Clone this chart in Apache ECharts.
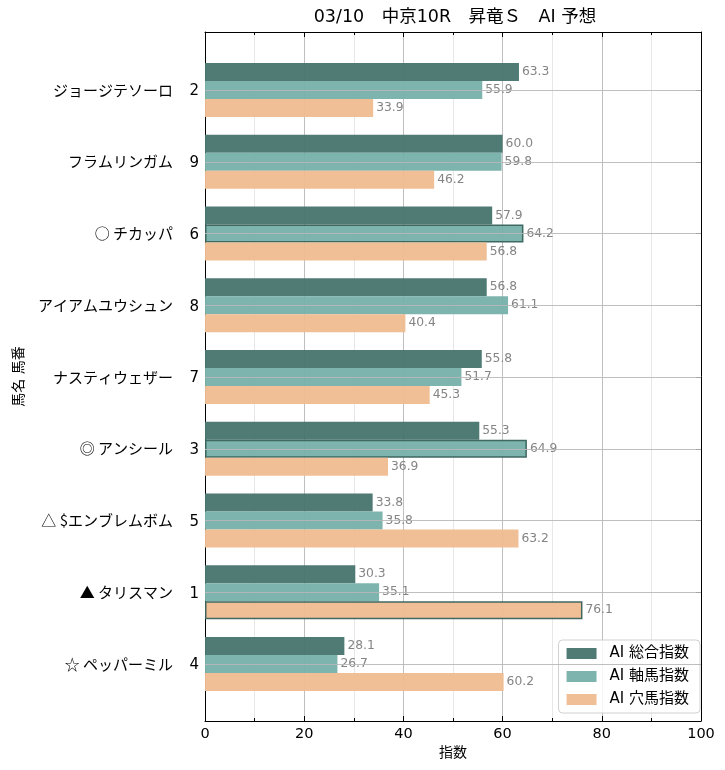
<!DOCTYPE html>
<html><head><meta charset="utf-8">
<script src="https://cdn.jsdelivr.net/npm/echarts@6/dist/echarts.min.js"></script>
<style>html,body{margin:0;padding:0;background:#fff}#c{width:725px;height:770px}</style>
</head><body><div id="c"></div>
<script>
const titleText = '03/10　中京10R　昇竜Ｓ　AI 予想';
const horses = ['ジョージテソーロ','フラムリンガム','○ チカッパ','アイアムユウシュン','ナスティウェザー','◎ アンシール','△ $エンブレムボム','▲ タリスマン','☆ ペッパーミル'];
const horseNums = ['2','9','6','8','7','3','5','1','4'];
const seriesNames = ['AI 総合指数','AI 軸馬指数','AI 穴馬指数'];
const sogo = [63.3,60.0,57.9,56.8,55.8,55.3,33.8,30.3,28.1];
const jiku = [55.9,59.8,64.2,61.1,51.7,64.9,35.8,35.1,26.7];
const ana  = [33.9,46.2,56.8,40.4,45.3,36.9,63.2,76.1,60.2];
const highlighted = [[], [2,5], [7]];
const xTicks = [0,20,40,60,80,100];

const FONT = '"DejaVu Sans", "Noto Sans CJK JP", sans-serif';
const JFONT = '"Noto Sans CJK JP", "DejaVu Sans", sans-serif';
const colors = ['#4a7670','#7ab2ab','#efbd93'];
const cats = horses.map((h,i)=>h+'|'+horseNums[i]);

const chart = echarts.init(document.getElementById('c'), null, {renderer:'canvas'});
const valsAll = [sogo, jiku, ana];
const barSeries = valsAll.map((vals, si) => ({
  name: seriesNames[si], type: 'bar', xAxisIndex: 2, yAxisIndex: 2,
  barWidth: 18, barGap: '0%', z: 3,
  data: vals.map((v,i) => ({
    value: v,
    itemStyle: highlighted[si].includes(i) ? {borderColor:'#3b655e', borderWidth:1.5} : {}
  })),
  itemStyle: {color: colors[si], opacity: 0.97},
  label: {show:true, position:'right', distance:3, color:'#808080', fontSize:12.3, fontFamily:FONT,
    formatter: p => p.value.toFixed(1)}
}));

const option = {
  animation:false,
  textStyle:{fontFamily:FONT},
  title:{text:titleText, left:450, top:4, textAlign:'center',
    textStyle:{fontSize:17.5, fontWeight:'normal', color:'#000', fontFamily:FONT}},
  legend:{data:seriesNames, orient:'vertical', right:25, bottom:57,
    itemWidth:30, itemHeight:11, itemGap:8, padding:[6,11,6,8],
    borderColor:'#d0d0d0', borderWidth:1, borderRadius:4, backgroundColor:'rgba(255,255,255,0.85)',
    textStyle:{fontSize:15, color:'#000', fontFamily:FONT, padding:[0,0,0,8]}, icon:'rect'},
  grid:[
    {left:205, right:24, top:32, bottom:49},
    {left:205, right:24, top:54.125, bottom:70.125}
  ],
  xAxis:[
    {gridIndex:0, type:'value', min:0, max:100, interval:20, position:'bottom',
     axisLine:{show:true, onZero:false, lineStyle:{color:'#000', width:1}},
     axisTick:{show:true, inside:true, length:5, lineStyle:{color:'#000'}},
     minorTick:{show:true, splitNumber:2, length:3, lineStyle:{color:'#000'}},
     splitLine:{show:true, lineStyle:{color:'#b8b8b8', width:0.9}},
     minorSplitLine:{show:true, lineStyle:{color:'#e4e4e4', width:0.9}},
     axisLabel:{fontSize:14.5, color:'#000', margin:6, fontFamily:FONT,
       formatter: v => xTicks.includes(v) ? String(v) : ''},
     name:'指数', nameLocation:'middle', nameGap:25,
     nameTextStyle:{fontSize:14, color:'#000', fontFamily:FONT}},
    {gridIndex:0, type:'value', min:0, max:100, interval:20, position:'top',
     axisLine:{show:true, onZero:false, lineStyle:{color:'#000', width:1}},
     axisTick:{show:true, inside:true, length:5, lineStyle:{color:'#000'}},
     minorTick:{show:true, splitNumber:2, length:3, lineStyle:{color:'#000'}},
     splitLine:{show:false}, axisLabel:{show:false}},
    {gridIndex:1, type:'value', min:0, max:100, show:false, splitLine:{show:false}}
  ],
  yAxis:[
    {gridIndex:0, type:'value', min:0, max:1, position:'left',
     axisLine:{show:true, onZero:false, lineStyle:{color:'#000', width:1}},
     axisTick:{show:false}, axisLabel:{show:false}, splitLine:{show:false},
     name:'馬名 馬番', nameLocation:'middle', nameGap:179, nameRotate:90,
     nameTextStyle:{fontSize:14, color:'#000', fontFamily:FONT}},
    {gridIndex:0, type:'value', min:0, max:1, position:'right',
     axisLine:{show:true, onZero:false, lineStyle:{color:'#000', width:1}},
     axisTick:{show:false}, axisLabel:{show:false}, splitLine:{show:false}},
    {gridIndex:1, type:'category', data:cats, inverse:true, position:'left',
     axisLine:{show:false},
     axisTick:{show:true, inside:true, length:5, alignWithLabel:true, lineStyle:{color:'#000'}},
     splitLine:{show:false},
     axisLabel:{margin:6, fontFamily:JFONT,
       formatter: v => { const p = v.split('|'); return '{a|'+p[0]+'}{b|'+p[1]+'}'; },
       rich:{a:{fontSize:15, color:'#000', fontFamily:JFONT, verticalAlign:'middle'},
             b:{fontSize:15, color:'#000', fontFamily:FONT, width:26, align:'right', verticalAlign:'middle', padding:[3,0,0,0]}}}},
    {gridIndex:1, type:'category', data:cats, inverse:true, position:'right',
     axisLine:{show:false},
     axisTick:{show:true, inside:true, length:5, alignWithLabel:true, lineStyle:{color:'#000'}},
     axisLabel:{show:false}, splitLine:{show:false}}
  ],
  series:[
    {type:'line', xAxisIndex:2, yAxisIndex:2, data:[], z:1, silent:true,
     markLine:{silent:true, symbol:['none','none'], label:{show:false},
       lineStyle:{color:'#b8b8b8', width:0.9, type:'solid'},
       data: cats.map(c => ({yAxis:c}))}},
    ...barSeries
  ]
};
chart.setOption(option);
</script></body></html>
